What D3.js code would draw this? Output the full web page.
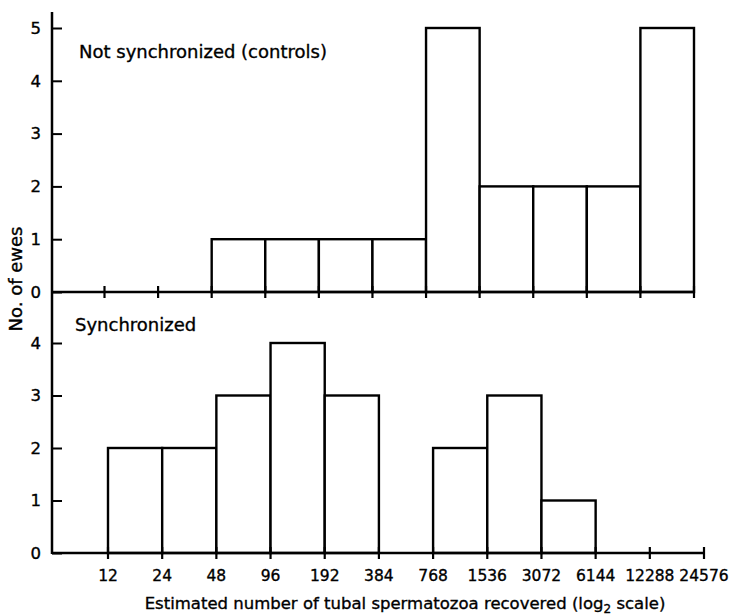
<!DOCTYPE html>
<html><head><meta charset="utf-8">
<script src="https://cdn.jsdelivr.net/npm/d3@7"></script>
<style>body{margin:0;background:#fff}svg{display:block}text{stroke:#000;stroke-width:0.35px}</style>
</head><body>
<svg id="c" width="741" height="615"></svg>
<script>
const edges = [12,24,48,96,192,384,768,1536,3072,6144,12288,24576];
const tickLabels = ["12","24","48","96","192","384","768","1536","3072","6144","12288","24576"];
const controls = [0,0,1,1,1,1,5,2,2,2,5];
const synchronized = [2,2,3,4,3,0,2,3,1,0,0];
const topTicks = [0,1,2,3,4,5];
const bottomTicks = [0,1,2,3,4];

const svg = d3.select("#c");
const font = "DejaVu Sans";
const axisX = 52;

const xTop = d3.scaleLog().base(2).domain([12,24576]).range([104.5,694]);
const xBot = d3.scaleLog().base(2).domain([12,24576]).range([108,704]);
const yTop = d3.scaleLinear().domain([0,5]).range([292,28]);
const yBot = d3.scaleLinear().domain([0,4]).range([553,343]);

svg.append("line").attr("x1",axisX).attr("x2",axisX).attr("y1",12).attr("y2",554)
  .attr("stroke","#000").attr("stroke-width",2.5);

function panel(x, y, vals, ticks, xEnd, label, labelY, labelX, drawLabels){
  const g = svg.append("g");
  vals.forEach((v,i)=>{
    if(v<=0) return;
    g.append("rect").attr("x",x(edges[i])).attr("y",y(v))
      .attr("width",x(edges[i+1])-x(edges[i])).attr("height",y(0)-y(v))
      .attr("fill","#fff").attr("stroke","#000").attr("stroke-width",2.4);
  });
  g.append("line").attr("x1",axisX).attr("x2",xEnd).attr("y1",y(0)).attr("y2",y(0))
    .attr("stroke","#000").attr("stroke-width",2.5);
  g.selectAll(".xt").data(edges).enter().append("line")
    .attr("x1",d=>x(d)).attr("x2",d=>x(d))
    .attr("y1",y(0)-6).attr("y2",y(0)+6)
    .attr("stroke","#000").attr("stroke-width",2.2);
  const ya = d3.axisLeft(y).tickValues(ticks).tickSize(-10).tickPadding(11).tickFormat(d3.format("d"));
  const ag = svg.append("g").attr("transform",`translate(${axisX},0)`).call(ya);
  ag.select(".domain").remove();
  ag.selectAll(".tick line").attr("stroke","#000").attr("stroke-width",2);
  ag.selectAll(".tick text").attr("font-family",font).attr("font-size",16.5).attr("fill","#000");
  svg.append("text").attr("x",labelX).attr("y",labelY).attr("font-family",font)
    .attr("font-size",18).attr("fill","#000").text(label);
  if(drawLabels){
    svg.append("g").selectAll("text").data(edges).enter().append("text")
      .attr("x",d=>x(d)).attr("y",y(0)+28).attr("text-anchor","middle")
      .attr("font-family",font).attr("font-size",15.5).attr("fill","#000")
      .text((d,i)=>tickLabels[i]);
  }
}

panel(xTop, yTop, controls, topTicks, 694, "Not synchronized (controls)", 58, 79, false);
panel(xBot, yBot, synchronized, bottomTicks, 705, "Synchronized", 331, 75, true);

svg.append("text").attr("transform","translate(22,279) rotate(-90)")
  .attr("text-anchor","middle").attr("font-family",font).attr("font-size",18)
  .attr("fill","#000").text("No. of ewes");

const xt = svg.append("text").attr("x",405).attr("y",609).attr("text-anchor","middle")
  .attr("font-family",font).attr("font-size",16.5).attr("fill","#000");
xt.append("tspan").text("Estimated number of tubal spermatozoa recovered (log");
xt.append("tspan").attr("dy",4).attr("font-size",12).text("2");
xt.append("tspan").attr("dy",-4).text(" scale)");
</script>
</body></html>
